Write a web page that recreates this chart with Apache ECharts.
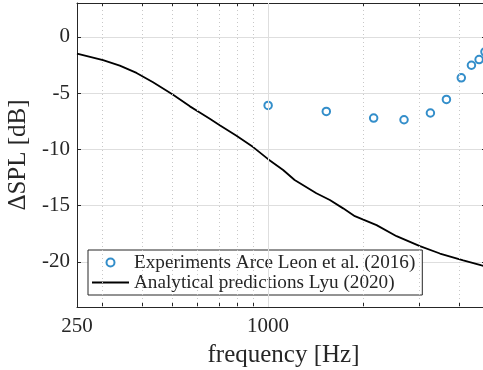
<!DOCTYPE html>
<html>
<head>
<meta charset="utf-8">
<script src="https://cdn.jsdelivr.net/npm/echarts@6/dist/echarts.min.js"></script>
<style>
  html, body { margin: 0; padding: 0; background: #ffffff; }
  #chart { width: 483px; height: 370px; }
</style>
</head>
<body>
<div id="chart"></div>
<script>
// Measured noise reduction (trailing-edge serrations), Arce Leon et al. (2016)
const expFreq = [1000, 1525, 2150, 2680, 3245, 3645, 4060, 4370, 4620, 4820];
const expDeltaSpl = [-6.1, -6.63, -7.22, -7.37, -6.77, -5.56, -3.65, -2.53, -2.02, -1.34];

// Analytical model, Lyu (2020)
const modelFreq = [250, 302, 341, 385, 434, 502, 567, 609, 655, 704, 795, 897, 1000, 1115, 1212, 1419, 1565, 1723, 1876, 2196, 2539, 3007, 3477, 4118, 4706, 5000];
const modelDeltaSpl = [-1.49, -2.08, -2.56, -3.21, -4.04, -5.14, -6.18, -6.72, -7.28, -7.85, -8.8, -9.8, -10.87, -11.83, -12.72, -13.9, -14.5, -15.24, -15.93, -16.73, -17.71, -18.6, -19.25, -19.85, -20.3, -20.5];

// Axis ticks
const xTickLabels = [250, 1000];
const xTicks = [300, 400, 500, 600, 700, 800, 900, 1000, 2000, 3000, 4000];
const xMinorGrid = [300, 400, 500, 600, 700, 800, 900, 2000, 3000, 4000];
const xMajorGrid = [1000];
const yTicks = [-20, -15, -10, -5, 0];

const seriesNames = ['Experiments Arce Leon et al. (2016)', 'Analytical predictions Lyu (2020)'];

const FONT = 'Liberation Serif';
const INK = '#262626';
const GRID = '#dedede';
const BLUE = '#0072BD';

const chart = echarts.init(document.getElementById('chart'), null, { renderer: 'canvas' });

const xAxisBase = {
  type: 'log',
  logBase: 10,
  min: 250,
  max: 5000,
  axisLine: { show: true, onZero: false, lineStyle: { color: INK, width: 1 } },
  axisTick: { show: true, inside: true, length: 4, customValues: xTicks, lineStyle: { color: INK, width: 1 } },
  splitLine: { show: false },
  minorTick: { show: false },
  minorSplitLine: { show: false }
};

chart.setOption({
  backgroundColor: '#ffffff',
  animation: false,
  grid: {
    left: 77, right: -7, top: 3, bottom: 63,
    containLabel: false,
    outerBoundsMode: 'none'
  },
  legend: {
    data: [
      { name: seriesNames[0] },
      // plain line key for the model curve (no marker)
      { name: seriesNames[1], icon: 'path://M0,0H37V1.8H0Z', itemStyle: { color: '#000000' } }
    ],
    orient: 'vertical',
    left: 88,
    top: 250,
    padding: [3, 7, 3, 4],
    itemGap: 1,
    itemWidth: 37,
    itemHeight: 8,
    backgroundColor: '#ffffff',
    borderColor: INK,
    borderWidth: 1,
    borderRadius: 0,
    textStyle: { fontFamily: FONT, fontSize: 19.2, color: INK }
  },
  xAxis: [
    Object.assign({}, xAxisBase, {
      position: 'bottom',
      axisLabel: {
        show: true,
        customValues: xTickLabels,
        fontFamily: FONT, fontSize: 21, color: INK, margin: 9,
        formatter: v => String(Math.round(v))
      },
      name: 'frequency [Hz]',
      nameLocation: 'middle',
      nameGap: 36,
      nameTextStyle: { fontFamily: FONT, fontSize: 25, color: INK }
    }),
    Object.assign({}, xAxisBase, {
      position: 'top',
      axisLabel: { show: false }
    })
  ],
  yAxis: [
    {
      type: 'value',
      min: -24,
      max: 3,
      position: 'left',
      axisLine: { show: true, onZero: false, lineStyle: { color: INK, width: 1 } },
      axisTick: { show: true, inside: true, length: 4, customValues: yTicks, lineStyle: { color: INK } },
      axisLabel: {
        customValues: yTicks,
        fontFamily: FONT, fontSize: 21, color: INK, margin: 7,
        formatter: v => String(v)
      },
      splitLine: { show: true, lineStyle: { color: GRID, width: 1 } },
      name: 'ΔSPL [dB]',
      nameLocation: 'middle',
      nameRotate: 90,
      nameGap: 45,
      nameTextStyle: { fontFamily: FONT, fontSize: 25, color: INK }
    },
    {
      type: 'value',
      min: -24,
      max: 3,
      position: 'right',
      axisLine: { show: true, onZero: false, lineStyle: { color: INK, width: 1 } },
      axisTick: { show: true, inside: true, length: 8, customValues: yTicks, lineStyle: { color: INK } },
      axisLabel: { show: false },
      splitLine: { show: false }
    }
  ],
  series: [
    {
      // vertical grid lines of the log frequency axis
      name: 'grid',
      type: 'line',
      data: [],
      z: 1,
      silent: true,
      markLine: {
        silent: true,
        symbol: ['none', 'none'],
        label: { show: false },
        animation: false,
        data: xMinorGrid.map(f => ({ xAxis: f, lineStyle: { type: [1, 3], color: '#c8c8c8', width: 1 } }))
          .concat(xMajorGrid.map(f => ({ xAxis: f, lineStyle: { type: 'solid', color: GRID, width: 1 } })))
      }
    },
    {
      name: seriesNames[1],
      type: 'line',
      data: modelFreq.map((f, i) => [f, modelDeltaSpl[i]]),
      symbol: 'none',
      showSymbol: false,
      smooth: false,
      z: 3,
      lineStyle: { color: '#000000', width: 1.8 },
      itemStyle: { color: '#000000' }
    },
    {
      name: seriesNames[0],
      type: 'scatter',
      data: expFreq.map((f, i) => [f, expDeltaSpl[i]]),
      symbol: 'emptyCircle',
      symbolSize: 7.5,
      clip: false,
      z: 4,
      itemStyle: { color: BLUE, borderColor: BLUE, borderWidth: 2.3 }
    }
  ]
});
</script>
</body>
</html>
